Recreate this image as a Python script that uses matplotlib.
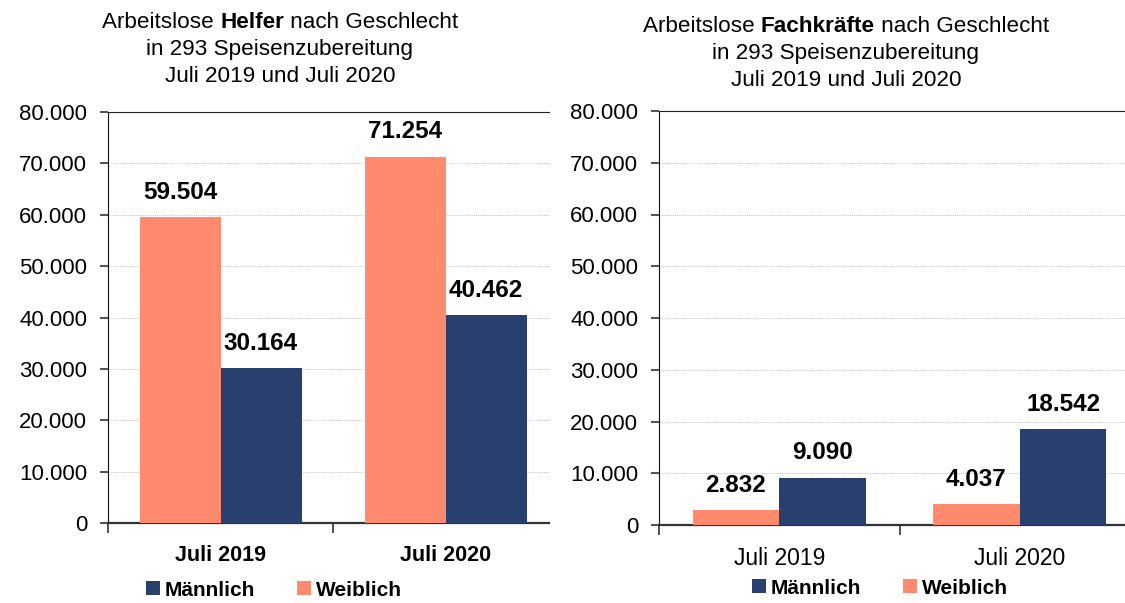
import matplotlib
matplotlib.use("Agg")
import matplotlib.pyplot as plt
import numpy as np

# data
months = ["Juli 2019", "Juli 2020"]
helfer_weiblich = [59504, 71254]
helfer_maennlich = [30164, 40462]
fach_weiblich = [2832, 4037]
fach_maennlich = [9090, 18542]
yticks = [0, 10000, 20000, 30000, 40000, 50000, 60000, 70000, 80000]

SALMON = "#FF8A6E"
NAVY = "#29406E"
SANS = ["Liberation Sans", "DejaVu Sans"]

plt.rcParams["font.family"] = SANS


def de_num(v):
    return f"{v:,}".replace(",", ".")


fig = plt.figure(figsize=(11.25, 6.03), dpi=100)
ax1 = fig.add_axes([108 / 1125, 1 - 523 / 603, 441 / 1125, 411 / 603])
ax2 = fig.add_axes([659 / 1125, 1 - 525 / 603, 466 / 1125, 414 / 603])


def draw_chart(ax, weiblich, maennlich, xmax, bold_xlabels):
    x = np.arange(len(months))
    w = 0.36
    bw = ax.bar(x - w / 2, weiblich, w, color=SALMON, label="Weiblich", zorder=3)
    bm = ax.bar(x + w / 2, maennlich, w, color=NAVY, label="Männlich", zorder=3)
    for bars, vals in ((bw, weiblich), (bm, maennlich)):
        for b, v in zip(bars, vals):
            ax.annotate(de_num(v), (b.get_x() + b.get_width() / 2, v),
                        xytext=(0, 18), textcoords="offset points",
                        ha="center", va="center", fontsize=17.5,
                        fontweight="bold")
    ax.set_xlim(-0.5, xmax)
    ax.set_ylim(0, 80000)
    ax.set_yticks(yticks)
    ax.set_yticklabels([de_num(v) for v in yticks], fontsize=16)
    ax.yaxis.grid(True, linestyle=(0, (1, 1)), color="#C4C4C4", linewidth=0.7, zorder=0)
    ax.tick_params(axis="y", length=6, width=1.5, color="#555555", pad=9)
    ax.set_xticks(x)
    if bold_xlabels:
        ax.set_xticklabels(months, fontsize=15.5, fontweight="bold")
    else:
        ax.set_xticklabels(months, fontsize=16.5)
    ax.tick_params(axis="x", which="major", length=0, pad=16)
    ax.set_xticks([-0.5, 0.5], minor=True)
    ax.tick_params(axis="x", which="minor", length=7, width=1.2, color="#333333")
    ax.spines["right"].set_visible(False)
    ax.spines["top"].set_color("#222222")
    ax.spines["left"].set_color("#111111")
    ax.spines["bottom"].set_color("#333333")
    ax.spines["bottom"].set_linewidth(1.6)
    return bm, bw


h1 = draw_chart(ax1, helfer_weiblich, helfer_maennlich, 1.46, True)
h2 = draw_chart(ax2, fach_weiblich, fach_maennlich, 1.4375, False)

for ax, handles, cx, cy in ((ax1, h1, 274, 590), (ax2, h2, 880, 588)):
    ax.legend(handles, ["Männlich", "Weiblich"], loc="center",
              bbox_to_anchor=(cx / 1125, 1 - cy / 603), bbox_transform=fig.transFigure,
              ncol=2, frameon=False, handlelength=0.65, handleheight=0.65,
              handletextpad=0.25, columnspacing=2.0,
              prop={"weight": "bold", "size": 15})


# titles with one bold word
def title_line(cx, cy, parts, size=16.2):
    texts = []
    for s, weight in parts:
        t = fig.text(0, 1 - cy / 603, s, fontsize=size, fontweight=weight,
                     va="center", ha="left")
        texts.append(t)
    fig.canvas.draw()
    r = fig.canvas.get_renderer()
    widths = [t.get_window_extent(r).width for t in texts]
    x = cx - sum(widths) / 2
    for t, wd in zip(texts, widths):
        t.set_x(x / 1125)
        x += wd


title_line(280, 22, [("Arbeitslose ", "normal"), ("Helfer", "bold"), (" nach Geschlecht", "normal")])
title_line(280, 49, [("in 293 Speisenzubereitung", "normal")])
title_line(280, 76, [("Juli 2019 und Juli 2020", "normal")])
title_line(846, 27, [("Arbeitslose ", "normal"), ("Fachkräfte", "bold"), (" nach Geschlecht", "normal")])
title_line(846, 54, [("in 293 Speisenzubereitung", "normal")])
title_line(846, 81, [("Juli 2019 und Juli 2020", "normal")])

fig.savefig("out.png", dpi=100)
